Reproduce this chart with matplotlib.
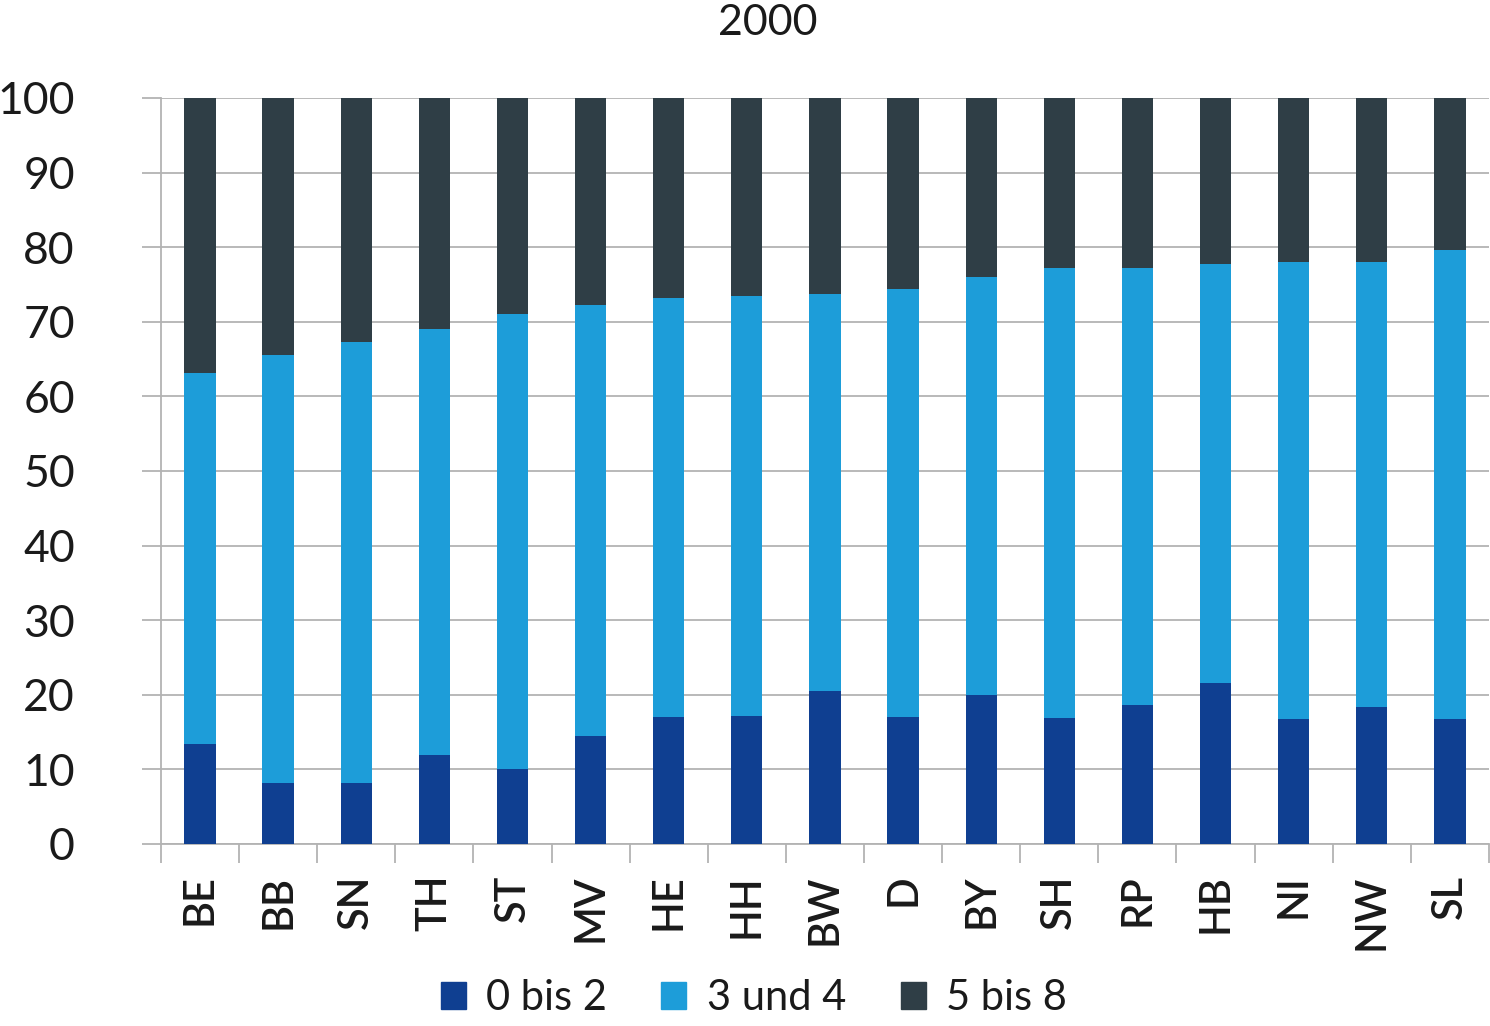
import matplotlib
matplotlib.use("Agg")
import matplotlib.pyplot as plt
import numpy as np
from matplotlib.patches import Patch

plt.rcParams['font.family'] = ['Lato', 'DejaVu Sans']

categories = ["BE", "BB", "SN", "TH", "ST", "MV", "HE", "HH", "BW", "D",
              "BY", "SH", "RP", "HB", "NI", "NW", "SL"]
low = [13.4, 8.2, 8.2, 11.9, 10.1, 14.5, 17.0, 17.2, 20.5, 17.0,
       20.0, 16.9, 18.6, 21.6, 16.8, 18.4, 16.8]
cum_mid = [63.1, 65.5, 67.3, 69.0, 71.0, 72.3, 73.2, 73.5, 73.7, 74.4,
           76.0, 77.2, 77.2, 77.7, 78.0, 78.0, 79.6]
mid = [round(c - l, 1) for c, l in zip(cum_mid, low)]
high = [round(100 - c, 1) for c in cum_mid]
series_names = ["0 bis 2", "3 und 4", "5 bis 8"]
colors = ["#0f3f91", "#1d9dd9", "#2f3e46"]
title = "2000"

fig = plt.figure(figsize=(14.9, 10.26), dpi=100)
ax = fig.add_axes([0.108, 0.1774, 0.8913, 0.7271])

x = np.arange(len(categories))
w = 0.4
ax.bar(x, low, w, color=colors[0], zorder=3)
ax.bar(x, mid, w, bottom=low, color=colors[1], zorder=3)
ax.bar(x, high, w, bottom=cum_mid, color=colors[2], zorder=3)

ax.set_xlim(-0.5, len(categories) - 0.5)
ax.set_ylim(0, 100)
ax.set_yticks(np.arange(0, 101, 10))
ax.yaxis.grid(True, color="#b3b3b3", linewidth=1.3, zorder=0)
ax.set_axisbelow(True)

ax.set_xticks(np.arange(-0.5, len(categories), 1.0), minor=False)
ax.set_xticklabels([])
ax.set_xticks(x, minor=True)
ax.set_xticklabels(categories, minor=True, rotation=90, fontsize=30,
                   fontweight='semibold', color="#1a1a1a")
ax.tick_params(axis='x', which='major', length=14, color="#b3b3b3", width=1.3)
ax.tick_params(axis='x', which='minor', length=0, pad=22)
ax.tick_params(axis='y', length=14, color="#b3b3b3", width=1.3, labelsize=32,
               pad=48, labelcolor="#1a1a1a")

for s in ["top", "right"]:
    ax.spines[s].set_visible(False)
for s in ["left", "bottom"]:
    ax.spines[s].set_color("#b3b3b3")
    ax.spines[s].set_linewidth(1.3)

fig.text(0.515, 0.978, title, fontsize=31, ha="center", va="center", color="#1a1a1a")

handles = [Patch(color=c, label=n) for c, n in zip(colors, series_names)]
leg = fig.legend(handles=handles, loc="center", bbox_to_anchor=(0.506, 0.027),
                 ncol=3, frameon=False, handlelength=0.6, handleheight=0.6,
                 handletextpad=0.5, columnspacing=1.3, prop={'size': 30})
for t in leg.get_texts():
    t.set_color("#1a1a1a")

fig.savefig("out.png", dpi=100)
